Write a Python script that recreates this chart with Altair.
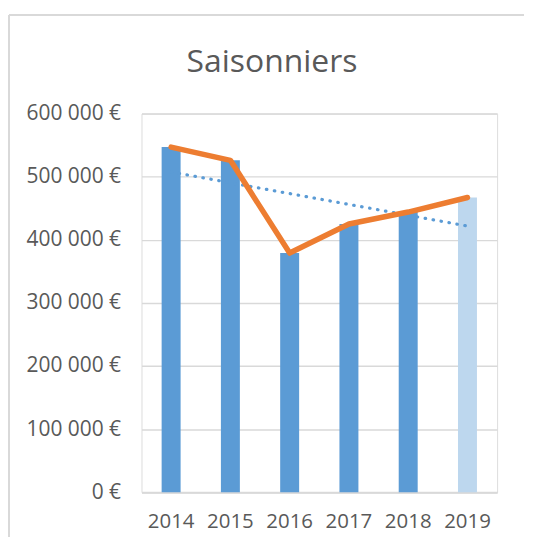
import altair as alt
import pandas as pd

# ---- data ----
years = [2014, 2015, 2016, 2017, 2018, 2019]
values = [547000, 526000, 379000, 425000, 444000, 467000]
y_ticks = [0, 100000, 200000, 300000, 400000, 500000, 600000]
title_text = "Saisonniers"

df = pd.DataFrame({"Année": years, "Montant": values})

W, H = 357, 380
FONT = "Open Sans"
TXT = "#595959"
GRID = "#D9D9D9"
BLUE = "#5B9BD5"
LIGHT = "#BDD7EE"
ORANGE = "#ED7D31"

x_enc = alt.X(
    "Année:O",
    scale=alt.Scale(paddingInner=0.68, paddingOuter=0.34),
    axis=alt.Axis(
        title=None, labelAngle=0, ticks=False, tickSize=0, domain=True,
        domainColor=GRID, domainWidth=2, labelFont=FONT, labelFontSize=20.5,
        labelColor=TXT, labelPadding=19, grid=False,
    ),
)
y_enc = alt.Y(
    "Montant:Q",
    scale=alt.Scale(domain=[0, 600000], nice=False),
    axis=alt.Axis(
        title=None, values=y_ticks, ticks=False, tickSize=0, domain=False,
        grid=True, gridColor=GRID, gridWidth=1.5,
        labelFont=FONT, labelFontSize=21, labelColor=TXT, labelPadding=21,
        labelExpr="replace(format(datum.value, ','), ',', ' ') + ' €'",
    ),
)

base = alt.Chart(df)

bars = base.mark_bar().encode(
    x=x_enc,
    y=y_enc,
    color=alt.condition(alt.datum["Année"] == 2019, alt.value(LIGHT), alt.value(BLUE)),
)

trend = base.transform_regression("Année", "Montant").mark_line(
    color=BLUE, strokeWidth=3.2, strokeDash=[0.5, 7.6], strokeCap="round"
).encode(x=alt.X("Année:O"), y=alt.Y("Montant:Q"))

line = base.mark_line(
    color=ORANGE, strokeWidth=5.5, strokeCap="round", strokeJoin="round"
).encode(x=alt.X("Année:O"), y=alt.Y("Montant:Q"))

frame_df = pd.DataFrame({"k": [0]})
top_border = alt.Chart(frame_df).mark_rule(color=GRID, strokeWidth=2).encode(
    x=alt.value(-133), x2=alt.value(384), y=alt.value(-99), y2=alt.value(-99)
)
left_border = alt.Chart(frame_df).mark_rule(color=GRID, strokeWidth=2).encode(
    x=alt.value(-133), x2=alt.value(-133), y=alt.value(-99), y2=alt.value(425)
)
title_mark = alt.Chart(frame_df).mark_text(
    text=title_text, font=FONT, fontSize=32, color=TXT,
    align="center", baseline="alphabetic",
).encode(x=alt.value(131), y=alt.value(-42))

chart = alt.layer(top_border, left_border, bars, trend, line, title_mark).properties(
    width=W,
    height=H,
    padding={"left": 0, "top": 5, "right": 0, "bottom": 0},
).configure_view(stroke=None).configure(background="white")

chart.save("out.html", embed_options={"renderer": "svg", "actions": False})
